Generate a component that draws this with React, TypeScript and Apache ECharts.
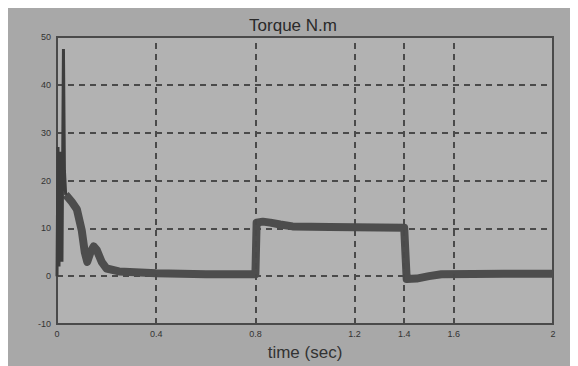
import React, { useEffect, useRef } from "react";
import * as echarts from "echarts";

const xTicks = [0, 0.4, 0.8, 1.2, 1.4, 1.6, 2];
const yTicks = [-10, 0, 10, 20, 30, 40, 50];

// startup transient (thin trace)
const startupTime = [0, 0.004, 0.008, 0.014, 0.02, 0.026, 0.03, 0.035];
const startupTorque = [0, 27, 2, 26, 3, 47.5, 22, 17];

// main torque trace (thick trace)
const mainTime = [
  0.035, 0.044, 0.06, 0.08, 0.1, 0.112, 0.122, 0.135, 0.148, 0.16, 0.18, 0.2,
  0.25, 0.4, 0.6, 0.8, 0.805, 0.83, 0.86, 0.9, 0.95, 1.1, 1.3, 1.4, 1.41, 1.45,
  1.5, 1.55, 1.8, 2,
];
const mainTorque = [
  17, 16.5, 15.5, 14, 9.5, 5, 3, 5, 6.2, 5.5, 3, 1.6, 1, 0.6, 0.4, 0.4, 11.2,
  11.4, 11.2, 10.8, 10.4, 10.3, 10.2, 10.1, -0.6, -0.5, 0, 0.4, 0.5, 0.5,
];

const gridX = [0.4, 0.8, 1.2, 1.4, 1.6];

export default function App() {
  const ref = useRef<HTMLDivElement>(null);
  useEffect(() => {
    if (!ref.current) return;
    const chart = echarts.init(ref.current, undefined, { renderer: "svg" });
    const dash = { color: "#4a4a4a", width: 2, type: [6, 5] as number[] };
    chart.setOption({
      animation: false,
      backgroundColor: "#a8a8a8",
      title: {
        text: "Torque N.m",
        left: 280,
        top: 4,
        textAlign: "center",
        textStyle: {
          fontFamily: "Liberation Sans",
          fontSize: 17,
          fontWeight: "normal",
          color: "#2a2a2a",
        },
      },
      grid: {
        left: 49,
        right: 25,
        top: 29,
        bottom: 39,
        show: true,
        backgroundColor: "#b2b2b2",
        borderColor: "#4a4a4a",
        borderWidth: 2,
      },
      xAxis: {
        type: "value",
        min: 0,
        max: 2,
        name: "time (sec)",
        nameLocation: "middle",
        nameGap: 20,
        nameTextStyle: {
          fontFamily: "Liberation Sans",
          fontSize: 17,
          color: "#333",
        },
        axisLine: { show: false },
        axisTick: { show: false, customValues: xTicks },
        splitLine: { show: false },
        axisLabel: {
          customValues: xTicks,
          fontSize: 9,
          color: "#333",
          margin: 5,
          formatter: (v: number) => (v === 0 || v === 2 ? String(v) : v.toFixed(1)),
        },
      },
      yAxis: {
        type: "value",
        min: -10,
        max: 50,
        interval: 10,
        axisLine: { show: false },
        axisTick: { show: false },
        splitLine: { show: true, lineStyle: dash },
        axisLabel: { fontSize: 9, color: "#333", margin: 6 },
      },
      series: [
        {
          type: "line",
          data: mainTime.map((t, i) => [t, mainTorque[i]]),
          showSymbol: false,
          symbol: "none",
          lineStyle: { color: "#4d4d4d", width: 8, join: "round" },
          markLine: {
            silent: true,
            symbol: "none",
            label: { show: false },
            lineStyle: dash,
            data: gridX.map((x) => ({ xAxis: x })),
          },
          z: 3,
        },
        {
          type: "line",
          data: startupTime.map((t, i) => [t, startupTorque[i]]),
          showSymbol: false,
          symbol: "none",
          lineStyle: { color: "#3d3d3d", width: 3 },
          z: 4,
        },
      ],
    });
    return () => chart.dispose();
  }, []);
  return <div ref={ref} style={{ width: 570, height: 358 }} />;
}
